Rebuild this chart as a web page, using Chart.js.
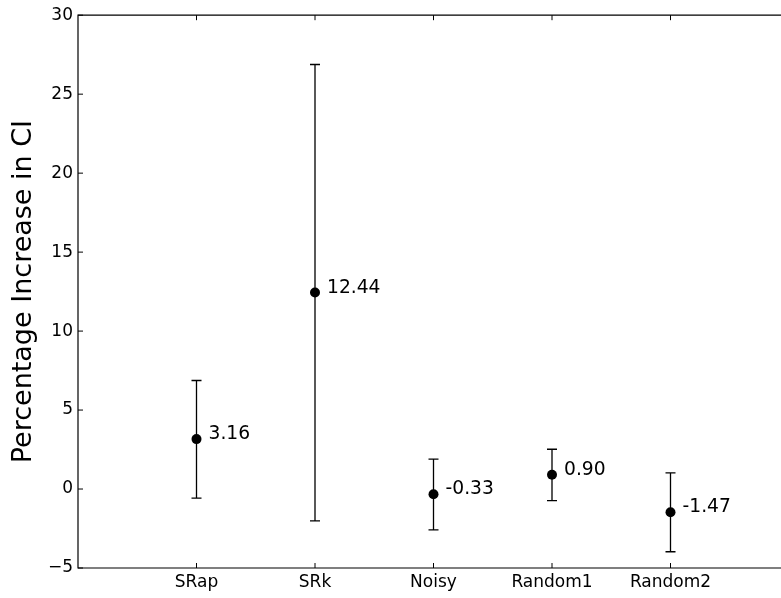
<!DOCTYPE html>
<html>
<head>
<meta charset="utf-8">
<script src="https://cdn.jsdelivr.net/npm/chart.js@4.4.1/dist/chart.umd.min.js"></script>
<style>
  html, body { margin: 0; padding: 0; background: #fff; overflow: hidden; }
  #wrap { width: 800px; height: 598px; }
</style>
</head>
<body>
<div id="wrap"><canvas id="ciChart"></canvas></div>
<script>
const categories = ['SRap', 'SRk', 'Noisy', 'Random1', 'Random2'];
const means = [3.16, 12.44, -0.33, 0.90, -1.47];
const upper = [6.87, 26.88, 1.89, 2.52, 1.02];
const lower = [-0.58, -2.02, -2.58, -0.74, -3.97];
const yTicks = [-5, 0, 5, 10, 15, 20, 25, 30];

const FONT = 'DejaVu Sans';

// error bars, value labels, frame and inward ticks like the matplotlib original
const decorations = {
    id: 'decorations',
    afterDatasetsDraw(chart) {
        const ctx = chart.ctx;
        const xs = chart.scales.x;
        const ys = chart.scales.y;
        const area = chart.chartArea;
        ctx.save();

        // frame (right side falls outside the window)
        ctx.strokeStyle = '#000';
        ctx.lineWidth = 1.2;
        ctx.beginPath();
        ctx.moveTo(area.right, area.top);
        ctx.lineTo(area.left, area.top);
        ctx.lineTo(area.left, area.bottom);
        ctx.lineTo(area.right, area.bottom);
        ctx.stroke();

        // inward ticks
        ctx.lineWidth = 1;
        categories.forEach((c, i) => {
            const px = xs.getPixelForValue(i + 1);
            ctx.beginPath();
            ctx.moveTo(px, area.bottom); ctx.lineTo(px, area.bottom - 5);
            ctx.moveTo(px, area.top); ctx.lineTo(px, area.top + 5);
            ctx.stroke();
        });
        yTicks.forEach(v => {
            const py = ys.getPixelForValue(v);
            ctx.beginPath();
            ctx.moveTo(area.left, py); ctx.lineTo(area.left + 5, py);
            ctx.stroke();
        });

        // error bars
        ctx.lineWidth = 1.3;
        means.forEach((m, i) => {
            const px = xs.getPixelForValue(i + 1);
            const top = ys.getPixelForValue(upper[i]);
            const bot = ys.getPixelForValue(lower[i]);
            ctx.beginPath();
            ctx.moveTo(px, top); ctx.lineTo(px, bot);
            ctx.moveTo(px - 5, top); ctx.lineTo(px + 5, top);
            ctx.moveTo(px - 5, bot); ctx.lineTo(px + 5, bot);
            ctx.stroke();
        });

        // points on top of bars
        ctx.fillStyle = '#000';
        means.forEach((m, i) => {
            ctx.beginPath();
            ctx.arc(xs.getPixelForValue(i + 1), ys.getPixelForValue(m), 5, 0, Math.PI * 2);
            ctx.fill();
        });

        // value labels
        ctx.font = '18.7px "' + FONT + '"';
        ctx.textAlign = 'left';
        ctx.textBaseline = 'alphabetic';
        means.forEach((m, i) => {
            ctx.fillText(m.toFixed(2), xs.getPixelForValue(i + 1) + 12, ys.getPixelForValue(m));
        });
        ctx.restore();
    }
};

const ciChart = new Chart(document.getElementById('ciChart'), {
    type: 'scatter',
    data: {
        datasets: [{
            label: 'Percentage Increase in CI',
            data: means.map((m, i) => ({ x: i + 1, y: m })),
            pointRadius: 0,
            backgroundColor: '#000'
        }]
    },
    options: {
        responsive: true,
        maintainAspectRatio: false,
        animation: false,
        layout: { padding: { left: 0, top: 15, right: 11, bottom: 0 } },
        plugins: {
            legend: { display: false },
            tooltip: { enabled: false }
        },
        scales: {
            x: {
                type: 'linear',
                min: 0,
                max: 6,
                grid: { display: false, drawTicks: false },
                border: { display: false },
                afterBuildTicks: scale => {
                    scale.ticks = categories.map((c, i) => ({ value: i + 1 }));
                },
                afterFit: scale => { scale.height = 30; },
                ticks: {
                    autoSkip: false,
                    maxRotation: 0,
                    padding: 4,
                    color: '#000',
                    font: { family: FONT, size: 17 },
                    callback: v => categories[v - 1] || ''
                }
            },
            y: {
                min: -5,
                max: 30,
                grid: { display: false, drawTicks: false },
                border: { display: false },
                afterBuildTicks: scale => {
                    scale.ticks = yTicks.map(v => ({ value: v }));
                },
                afterFit: scale => { scale.width = 78; },
                title: {
                    display: true,
                    text: 'Percentage Increase in CI',
                    color: '#000',
                    font: { family: FONT, size: 27 },
                    padding: { top: 8, bottom: 0 }
                },
                ticks: {
                    padding: 5,
                    color: '#000',
                    font: { family: FONT, size: 17 },
                    callback: v => (v < 0 ? '\u2212' + Math.abs(v) : String(v))
                }
            }
        }
    },
    plugins: [decorations]
});
</script>
</body>
</html>
